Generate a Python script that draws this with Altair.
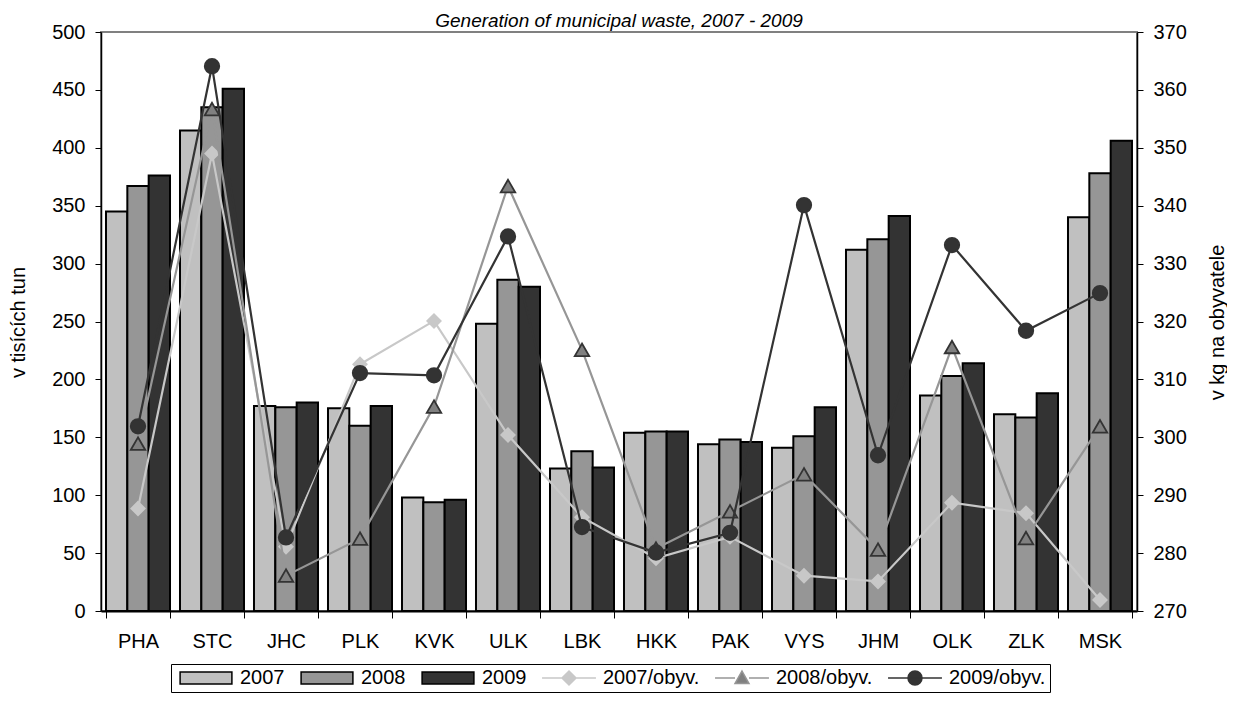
import altair as alt
import pandas as pd

regions = ["PHA", "STC", "JHC", "PLK", "KVK", "ULK", "LBK", "HKK", "PAK", "VYS", "JHM", "OLK", "ZLK", "MSK"]

waste_2007 = [345, 415, 177, 175, 98, 248, 123, 154, 144, 141, 312, 186, 170, 340]
waste_2008 = [367, 435, 176, 160, 94, 286, 138, 155, 148, 151, 321, 203, 167, 378]
waste_2009 = [376, 451, 180, 177, 96, 280, 124, 155, 146, 176, 341, 214, 188, 406]

per_cap_2007 = [287.7, 349.0, 281.1, 312.6, 320.1, 300.4, 286.2, 279.1, 282.8, 276.1, 275.1, 288.7, 286.9, 271.9]
per_cap_2008 = [298.9, 356.7, 276.1, 282.5, 305.3, 343.4, 315.1, 280.8, 287.2, 293.6, 280.6, 315.6, 282.6, 301.9]
per_cap_2009 = [301.9, 364.1, 282.7, 311.1, 310.7, 334.7, 284.5, 280.1, 283.5, 340.1, 296.9, 333.2, 318.4, 324.9]

bar_series = ["2007", "2008", "2009"]
line_series = ["2007/obyv.", "2008/obyv.", "2009/obyv."]
all_series = bar_series + line_series

left_ticks = [0, 50, 100, 150, 200, 250, 300, 350, 400, 450, 500]
right_ticks = [270, 280, 290, 300, 310, 320, 330, 340, 350, 360, 370]

bar_fill = ["#c0c0c0", "#969696", "#333333"]
line_color = ["#c8c8c8", "#969696", "#333333"]
marker_fill = ["#c8c8c8", "#808080", "#333333"]
marker_stroke = ["#c8c8c8", "#333333", "#333333"]
marker_shape = ["diamond", "triangle-up", "circle"]
marker_size = [180, 210, 210]

FONT = "Liberation Sans"

bars_df = pd.DataFrame({
    "region": regions * 3,
    "series": [s for s in bar_series for _ in regions],
    "value": waste_2007 + waste_2008 + waste_2009,
})
pc_df = pd.DataFrame({
    "region": regions * 3,
    "series": [s for s in line_series for _ in regions],
    "value": per_cap_2007 + per_cap_2008 + per_cap_2009,
})
legend_df = pd.DataFrame({"series": all_series})

# legend symbols: wide swatch for bars, line + marker for per-capita series
swatch = "M-3.7,-0.85H3.7V0.85H-3.7Z"
legend_shapes = [
    swatch, swatch, swatch,
    "M-3.85,0H3.85M0,-1L1,0L0,1L-1,0Z",
    "M-3.85,0H-1M1,0H3.85M0,-1L1,0.8L-1,0.8Z",
    "M-3.85,0H3.85M1,0A1,1,0,1,1,-1,0A1,1,0,1,1,1,0Z",
]
legend_fill = bar_fill + marker_fill
legend_stroke = ["#000000", "#000000", "#000000"] + line_color

x_axis = alt.Axis(title=None, labelAngle=0, tickBand="extent", tickSize=7,
                  labelPadding=13, domainWidth=2)
x_scale = alt.Scale(paddingInner=0.135, paddingOuter=0.0675)
x_enc = alt.X("region:N", sort=regions, scale=x_scale, axis=x_axis)
xoff_enc = alt.XOffset("series:N", sort=bar_series,
                       scale=alt.Scale(domain=bar_series, paddingInner=0, paddingOuter=0))

left_axis = alt.Axis(values=left_ticks, title="v tisících tun", orient="left",
                     titleX=-83, titleY=290, titleAngle=270,
                     titleAlign="center", titleBaseline="middle",
                     tickSize=6, labelPadding=10, domainWidth=1.5)
y_left = alt.Y("value:Q", scale=alt.Scale(domain=[0, 500], nice=False, zero=True),
               axis=left_axis)

bar_layers = []
for i, s in enumerate(bar_series):
    bar_layers.append(
        alt.Chart(bars_df).transform_filter(alt.datum.series == s)
        .mark_bar(fill=bar_fill[i], stroke="black", strokeWidth=2)
        .encode(x=x_enc, xOffset=xoff_enc, y=y_left)
    )
left = alt.layer(*bar_layers)

right_axis = alt.Axis(values=right_ticks, title="v kg na obyvatele", orient="right",
                      titleX=80, titleY=290, titleAngle=270,
                      titleAlign="center", titleBaseline="middle",
                      tickSize=6, labelPadding=10, domainWidth=1.5)
right_scale = alt.Scale(domain=[270, 370], nice=False, zero=False)
y_right = alt.Y("value:Q", scale=right_scale, axis=right_axis)

right_layers = []
for i, s in enumerate(line_series):
    base = alt.Chart(pc_df).transform_filter(alt.datum.series == s)
    line = base.mark_line(color=line_color[i], strokeWidth=2.2).encode(
        x=x_enc, y=y_right)
    pts = base.mark_point(shape=marker_shape[i], size=marker_size[i], filled=True,
                          fill=marker_fill[i], stroke=marker_stroke[i],
                          strokeWidth=1.8, opacity=1).encode(
        x=x_enc, y=y_right)
    right_layers += [line, pts]

legend_spec = alt.Legend(title=None, orient="none", legendX=70, legendY=632,
                         direction="horizontal", symbolSize=196,
                         symbolStrokeWidth=1.5, symbolOffset=21,
                         labelOffset=24, columnPadding=11, padding=4,
                         strokeColor="black", labelFontSize=20,
                         labelFont=FONT, labelColor="black", symbolOpacity=1)

legend_layer = alt.Chart(legend_df).transform_filter("false").mark_point(
    opacity=1, filled=True
).encode(
    fill=alt.Fill("series:N", sort=all_series,
                  scale=alt.Scale(domain=all_series, range=legend_fill),
                  legend=legend_spec),
    stroke=alt.Stroke("series:N", sort=all_series,
                      scale=alt.Scale(domain=all_series, range=legend_stroke),
                      legend=legend_spec),
    shape=alt.Shape("series:N", sort=all_series,
                    scale=alt.Scale(domain=all_series, range=legend_shapes),
                    legend=legend_spec),
)

right = alt.layer(*right_layers, legend_layer)

chart = alt.layer(left, right).resolve_scale(y="independent").properties(
    width=1036, height=579,
    padding={"left": 0, "top": 4, "right": 0, "bottom": 0},
    title=alt.TitleParams("Generation of municipal waste, 2007 - 2009",
                          fontStyle="italic", fontWeight="normal", fontSize=19,
                          font=FONT, color="black", anchor="middle", frame="group",
                          offset=-9),
).configure_view(
    stroke="#808080", strokeWidth=2
).configure_axis(
    labelFont=FONT, labelFontSize=20, labelColor="black",
    titleFont=FONT, titleFontSize=20, titleFontWeight="normal", titleColor="black",
    tickColor="black", domainColor="black", grid=False,
)

chart.save("out.html", embed_options={"renderer": "svg", "actions": False})
